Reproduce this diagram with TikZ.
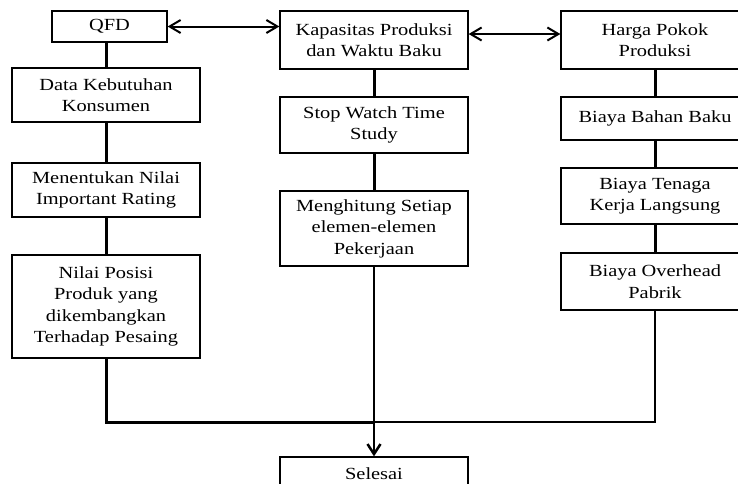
\documentclass[tikz,border=0pt]{standalone}
\usepackage{fontspec}
\setmainfont{Liberation Serif}[FakeStretch=1.2]
\usepackage{tikz}
\usetikzlibrary{arrows.meta}

\begin{document}
\begin{tikzpicture}[x=1pt,y=-1pt,
  box/.style={draw,line width=1.3pt,align=center,inner sep=0pt,minimum width=188pt,font=\fontsize{17}{21.5}\selectfont},
  link/.style={line width=3pt},
  both/.style={line width=2pt,{Straight Barb[length=11pt,width=13pt]}-{Straight Barb[length=11pt,width=13pt]}}]
\useasboundingbox (0,0) rectangle (738,483);

\node [box,minimum width=115pt,minimum height=31pt] (qfd) at (109.5,26.5) {QFD};
\node [box,minimum height=58pt] (kap) at (374,40) {Kapasitas Produksi\\dan Waktu Baku};
\node [box,minimum height=58pt] (hpp) at (655,40) {Harga Pokok\\Produksi};

\node [box,minimum height=54pt] (dkk) at (106,95) {Data Kebutuhan\\Konsumen};
\node [box,minimum height=54pt] (mni) at (106,190) {Menentukan Nilai\\Important Rating};
\node [box,minimum height=103pt] (npp) at (106,306.5) {Nilai Posisi\\Produk yang\\dikembangkan\\Terhadap Pesaing};

\node [box,minimum height=56pt] (swt) at (374,125) {Stop Watch Time\\Study};
\node [box,minimum height=75pt] (mse) at (374,228.5) {Menghitung Setiap\\elemen-elemen\\Pekerjaan};

\node [box,minimum height=43pt] (bbb) at (655,118.5) {Biaya Bahan Baku};
\node [box,minimum height=56pt] (btk) at (655,196) {Biaya Tenaga\\Kerja Langsung};
\node [box,minimum height=57pt] (bop) at (655,281.5) {Biaya Overhead\\Pabrik};

\node [box,minimum height=34pt] (sel) at (374,474) {Selesai};

\draw [both] (qfd.east) -- (qfd.east -| kap.west);
\draw [both] ([yshift=6pt]kap.east) -- ([yshift=6pt]hpp.west);

\draw [link] (dkk.north |- qfd.south) -- (dkk.north);
\draw [link] (dkk.south) -- (mni.north);
\draw [link] (mni.south) -- (npp.north);
\draw [link] (kap.south) -- (swt.north);
\draw [link] (swt.south) -- (mse.north);
\draw [link] (hpp.south) -- (bbb.north);
\draw [link] (bbb.south) -- (btk.north);
\draw [link] (btk.south) -- (bop.north);

\coordinate (join) at (374,422);
\draw [link] (npp.south) -- (npp.south |- join) -- (join);
\draw [line width=2.2pt] (bop.south) -- (bop.south |- join) -- (join);
\draw [line width=2.5pt,-{Straight Barb[length=10pt,width=13pt]}] (mse.south) -- (sel.north);

\end{tikzpicture}
\end{document}
